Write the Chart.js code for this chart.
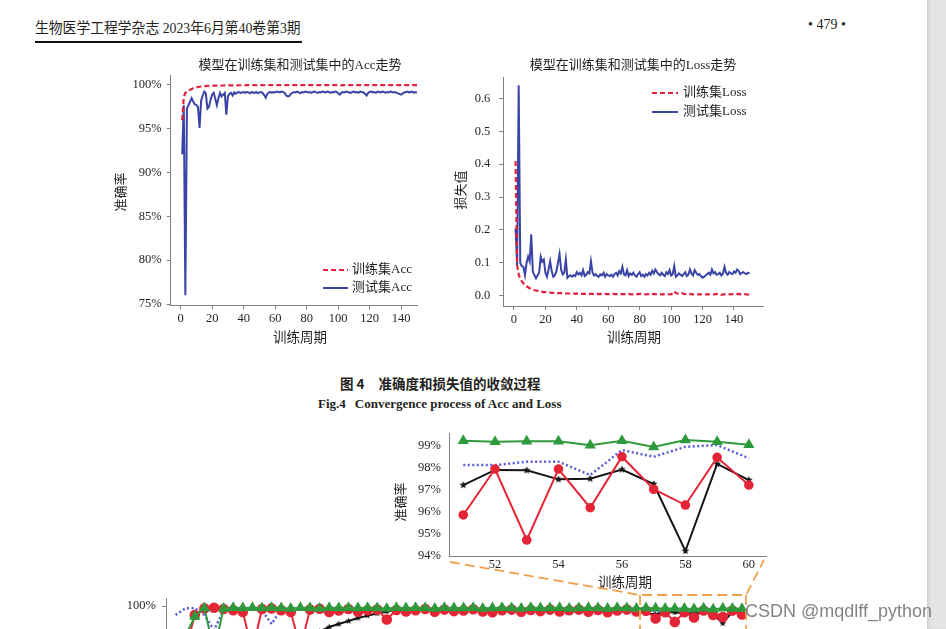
<!DOCTYPE html>
<html>
<head>
<meta charset="utf-8">
<script src="https://cdn.jsdelivr.net/npm/chart.js@4.4.1/dist/chart.umd.min.js"></script>
<style>
  html, body { margin: 0; padding: 0; width: 946px; height: 629px; overflow: hidden; background: #fff; }
  canvas { position: absolute; }
  .txt { position: absolute; color: #231f20; white-space: nowrap; line-height: 1; }
  #hdr { left: 35px; top: 16px; font: 15px "Liberation Serif", "Noto Sans CJK SC", serif; transform: scaleX(0.92); transform-origin: left center; }
  #rule { position: absolute; left: 35px; top: 41px; width: 267px; height: 1.5px; background: #111; }
  #pno { left: 808px; top: 17px; font: 14px "Liberation Serif", serif; }
  #cap1 { left: 340px; top: 373px; font: bold 13.5px "Noto Sans CJK SC", sans-serif; }
  #cap2 { left: 318px; top: 396px; font: bold 13px "Liberation Serif", serif; }
  #strip { position: absolute; left: 927px; top: 0; width: 19px; height: 629px; background: #e4e4e4; box-shadow: inset 3px 0 3px -1px #cfcfcf; }
  #wm { left: 745px; top: 601px; font: 18px "Liberation Sans", sans-serif; color: rgba(118,118,118,0.9); z-index: 5; }
  svg { position: absolute; left: 0; top: 0; z-index: 4; }
</style>
</head>
<body>
<div id="hdr" class="txt">生物医学工程学杂志 2023年6月第40卷第3期</div>
<div id="rule"></div>
<div id="pno" class="txt">• 479 •</div>

<canvas id="acc" width="330" height="300" style="left:100px;top:50px"></canvas>
<canvas id="loss" width="330" height="300" style="left:440px;top:50px"></canvas>

<div id="cap1" class="txt">图 4<span style="display:inline-block;width:14px"></span>准确度和损失值的收敛过程</div>
<div id="cap2" class="txt">Fig.4<span style="display:inline-block;width:9px"></span>Convergence process of Acc and Loss</div>

<canvas id="zoomIn" width="400" height="170" style="left:380px;top:425px"></canvas>
<canvas id="full" width="680" height="360" style="left:100px;top:590px"></canvas>

<svg width="946" height="629">
  <g fill="none" stroke="#f0a04b" stroke-width="1.8" stroke-dasharray="10 5">
    <polyline points="450,562 640,595 746,595 764,560"/>
    <line x1="640" y1="595" x2="640" y2="640"/>
    <line x1="746" y1="595" x2="746" y2="640"/>
  </g>
</svg>
<div id="strip"></div>
<div id="wm" class="txt">CSDN @mqdlff_python</div>

<script>
// ---- data: figure 4, 150 training epochs ----
const epochs = Array.from({length: 150}, (_, i) => i + 1);

const accTrain = [
  96.0, 98.6, 99.1, 99.2, 99.35, 99.45, 99.55, 99.62, 99.68, 99.73,
  99.77, 99.8, 99.83, 99.85, 99.87, 99.88, 99.89, 99.9, 99.91, 99.91,
  99.92, 99.92, 99.93, 99.93, 99.94, 99.94, 99.94, 99.95, 99.95, 99.95,
  99.96, 99.96, 99.96, 99.96, 99.97, 99.96, 99.97, 99.97, 99.97, 99.97,
  99.97, 99.98, 99.98, 99.97, 99.98, 99.98, 99.98, 99.97, 99.98, 99.98,
  99.98, 99.98, 99.97, 99.98, 99.98, 99.99, 99.98, 99.98, 99.97, 99.98,
  99.98, 99.99, 99.98, 99.98, 99.98, 99.97, 99.98, 99.99, 99.98, 99.98,
  99.98, 99.98, 99.99, 99.98, 99.98, 99.97, 99.98, 99.99, 99.98, 99.98,
  99.99, 99.98, 99.98, 99.99, 99.98, 99.98, 99.97, 99.98, 99.99, 99.98,
  99.98, 99.99, 99.98, 99.98, 99.99, 99.98, 99.98, 99.99, 99.98, 99.98,
  99.97, 99.96, 99.98, 99.98, 99.99, 99.98, 99.98, 99.99, 99.98, 99.98,
  99.99, 99.98, 99.98, 99.99, 99.98, 99.98, 99.99, 99.98, 99.99, 99.98,
  99.98, 99.99, 99.98, 99.99, 99.98, 99.98, 99.99, 99.98, 99.98, 99.99,
  99.98, 99.99, 99.98, 99.98, 99.99, 99.98, 99.99, 99.98, 99.98, 99.99,
  99.98, 99.99, 99.98, 99.99, 99.98, 99.98, 99.99, 99.98, 99.99, 99.99
];

const accTest = [
  92.1, 97.7, 76.0, 97.3, 97.7, 98.1, 98.5, 98.1, 97.8, 97.7,
  97.5, 95.1, 98.2, 98.8, 99.25, 99.05, 97.3, 97.5, 98.3, 98.9,
  99.1, 98.4, 97.7, 98.5, 99.1, 98.7, 98.9, 99.1, 96.6, 98.7,
  99.0, 99.1, 98.8, 99.15, 99.0, 99.15, 99.2, 99.1, 99.15, 99.2,
  99.1, 99.2, 99.15, 99.05, 99.2, 99.15, 99.1, 99.2, 99.05, 99.15,
  99.2, 99.1, 98.85, 98.55, 99.0, 99.15, 99.2, 99.1, 99.2, 99.15,
  99.25, 99.2, 99.15, 99.25, 99.2, 99.1, 98.8, 98.7, 98.75, 99.0,
  99.1, 99.2, 99.15, 99.25, 99.15, 99.05, 99.2, 99.15, 99.25, 99.2,
  99.15, 99.2, 99.1, 99.2, 99.25, 99.15, 99.1, 99.2, 99.15, 99.25,
  99.2, 99.15, 99.25, 99.2, 99.1, 99.2, 99.15, 99.25, 99.2, 99.05,
  98.9, 99.1, 99.2, 99.15, 99.25, 99.2, 99.15, 99.1, 99.2, 99.25,
  99.15, 99.2, 99.1, 99.25, 99.2, 99.15, 99.0, 98.8, 99.1, 99.2,
  99.25, 99.15, 99.2, 99.1, 99.25, 99.2, 99.15, 99.25, 99.2, 99.1,
  99.2, 99.15, 99.25, 99.2, 99.15, 99.2, 99.1, 99.05, 98.95, 98.9,
  99.05, 99.15, 99.2, 99.25, 99.15, 99.2, 99.25, 99.1, 99.2, 99.15
];

const lossTrain = [
  0.41, 0.092, 0.065, 0.052, 0.044, 0.038, 0.033, 0.029, 0.026, 0.023,
  0.021, 0.019, 0.017, 0.016, 0.015, 0.014, 0.013, 0.012, 0.011, 0.011,
  0.010, 0.010, 0.010, 0.009, 0.009, 0.009, 0.009, 0.008, 0.008, 0.008,
  0.008, 0.008, 0.007, 0.007, 0.007, 0.007, 0.007, 0.007, 0.006, 0.007,
  0.006, 0.007, 0.006, 0.006, 0.006, 0.007, 0.006, 0.006, 0.006, 0.006,
  0.006, 0.005, 0.006, 0.005, 0.006, 0.005, 0.005, 0.006, 0.005, 0.005,
  0.005, 0.005, 0.006, 0.005, 0.005, 0.005, 0.004, 0.005, 0.005, 0.005,
  0.005, 0.004, 0.005, 0.005, 0.004, 0.005, 0.004, 0.005, 0.005, 0.006,
  0.006, 0.005, 0.005, 0.004, 0.005, 0.005, 0.007, 0.006, 0.005, 0.005,
  0.004, 0.005, 0.005, 0.004, 0.005, 0.004, 0.005, 0.005, 0.004, 0.005,
  0.006, 0.013, 0.009, 0.007, 0.006, 0.005, 0.008, 0.006, 0.005, 0.005,
  0.004, 0.005, 0.005, 0.004, 0.005, 0.005, 0.004, 0.005, 0.004, 0.005,
  0.005, 0.004, 0.005, 0.004, 0.005, 0.005, 0.004, 0.005, 0.006, 0.004,
  0.004, 0.003, 0.004, 0.005, 0.004, 0.005, 0.005, 0.004, 0.005, 0.006,
  0.005, 0.005, 0.006, 0.005, 0.004, 0.005, 0.005, 0.004, 0.004, 0.003
];

const lossTest = [
  0.205, 0.093, 0.64, 0.10, 0.09, 0.088, 0.063, 0.10, 0.119, 0.105,
  0.187, 0.073, 0.063, 0.053, 0.062, 0.07, 0.119, 0.104, 0.11, 0.07,
  0.058, 0.08, 0.105, 0.075, 0.058, 0.062, 0.075, 0.1, 0.127, 0.08,
  0.065, 0.07, 0.11, 0.055, 0.06, 0.062, 0.058, 0.063, 0.06, 0.072,
  0.065, 0.07, 0.062, 0.078, 0.06, 0.064, 0.072, 0.068, 0.105, 0.07,
  0.062, 0.066, 0.06, 0.058, 0.065, 0.062, 0.07, 0.058, 0.066, 0.062,
  0.06, 0.064, 0.058, 0.066, 0.07, 0.062, 0.075, 0.068, 0.088, 0.065,
  0.062, 0.078, 0.06, 0.068, 0.064, 0.07, 0.062, 0.058, 0.066, 0.072,
  0.06, 0.064, 0.058, 0.066, 0.062, 0.07, 0.064, 0.076, 0.068, 0.08,
  0.072, 0.066, 0.062, 0.07, 0.064, 0.06, 0.072, 0.066, 0.078, 0.062,
  0.066, 0.09, 0.058, 0.062, 0.068, 0.064, 0.06, 0.066, 0.072, 0.06,
  0.064, 0.08, 0.068, 0.062, 0.078, 0.07, 0.064, 0.066, 0.06, 0.055,
  0.058, 0.062, 0.066, 0.07, 0.064, 0.08, 0.068, 0.072, 0.064, 0.066,
  0.07, 0.062, 0.068, 0.088, 0.07, 0.064, 0.072, 0.068, 0.066, 0.074,
  0.07, 0.08, 0.076, 0.066, 0.07, 0.072, 0.068, 0.066, 0.07, 0.068
];

// ---- data: accuracy of four models over 60 epochs (zoomed 51-60) ----
const epochs60 = Array.from({length: 60}, (_, i) => i + 1);

const accGreen = [
  75.0, 90.0, 96.5, 99.3, 85.0, 99.2, 99.4, 99.3, 99.4, 99.3,
  99.4, 99.3, 99.2, 99.4, 99.3, 99.2, 99.4, 99.3, 99.4, 99.3,
  99.4, 99.3, 99.2, 99.4, 99.3, 99.4, 99.3, 99.2, 99.4, 99.3,
  99.3, 99.4, 99.2, 99.3, 99.4, 99.3, 99.2, 99.4, 99.3, 99.3,
  99.4, 99.2, 99.3, 99.4, 99.3, 99.2, 99.4, 99.3, 99.2, 99.3,
  99.23, 99.18, 99.2, 99.2, 99.02, 99.23, 98.94, 99.26, 99.18, 99.05
];
const accRed = [
  70.0, 85.0, 97.0, 99.2, 99.4, 99.0, 98.6, 98.0, 85.0, 99.0,
  99.2, 98.6, 98.0, 86.0, 98.8, 99.1, 98.0, 98.5, 99.0, 98.1,
  98.6, 98.8, 95.5, 98.7, 98.2, 98.6, 99.0, 98.1, 98.8, 98.3,
  98.5, 98.9, 98.2, 97.9, 98.6, 98.8, 98.1, 98.7, 98.3, 98.8,
  98.2, 98.6, 98.8, 98.1, 98.7, 97.9, 98.5, 98.8, 98.2, 98.4,
  95.85, 97.94, 94.71, 97.94, 96.18, 98.5, 97.02, 96.3, 98.47, 97.21
];
const accBlack = [
  60.0, 64.0, 68.0, 71.0, 74.0, 76.0, 78.0, 80.0, 82.0, 83.5,
  85.0, 86.0, 87.0, 88.0, 90.0, 91.5, 93.0, 94.0, 95.0, 96.0,
  96.8, 97.5, 98.2, 98.5, 98.8, 98.7, 99.0, 98.9, 99.1, 99.0,
  98.9, 99.1, 99.0, 99.2, 99.0, 98.9, 99.1, 99.0, 99.2, 99.0,
  98.9, 99.1, 99.0, 99.2, 99.0, 99.1, 98.9, 99.1, 98.6, 97.6,
  97.21, 97.9, 97.88, 97.47, 97.5, 97.92, 97.26, 94.21, 98.17, 97.44
];
const accBlue = [
  97.0, 99.2, 99.3, 97.0, 92.0, 98.5, 99.3, 99.2, 99.1, 98.5,
  94.0, 99.0, 99.2, 99.1, 98.8, 99.0, 97.0, 98.9, 99.2, 98.8,
  98.6, 98.9, 99.0, 98.7, 98.8, 99.0, 98.8, 98.6, 98.9, 98.7,
  98.8, 98.6, 98.9, 98.7, 98.5, 98.8, 98.6, 98.9, 98.5, 98.7,
  98.6, 98.4, 98.8, 98.5, 98.7, 98.4, 98.6, 98.8, 98.3, 98.5,
  98.12, 98.12, 98.27, 98.27, 97.67, 98.8, 98.5, 98.95, 99.03, 98.43
];

const accYTicks = [75, 80, 85, 90, 95, 100];
const lossYTicks = [0, 0.1, 0.2, 0.3, 0.4, 0.5, 0.6];
const epochTicks = [0, 20, 40, 60, 80, 100, 120, 140];
const zoomXTicks = [52, 54, 56, 58, 60];
const zoomYTicks = [94, 95, 96, 97, 98, 99];
const fullXTicks = [10, 20, 30, 40, 50, 60];
const fullYTicks = [40, 60, 80, 100];
const zoomFrom = 50; // index of epoch 51

// ---- helpers ----
const INK = '#231f20';
const AXIS = '#808080';
const SERIF = '"Liberation Serif", "Noto Sans CJK SC", serif';
const RED = '#e3203a';
const NAVY = '#3a44a6';

const pts = (xs, ys, from = 0) => ys.slice(from).map((y, i) => ({x: xs[i + from], y}));

function starImage(r, color) {
  const c = document.createElement('canvas');
  c.width = c.height = Math.ceil(r * 2 + 2);
  const g = c.getContext('2d');
  g.translate(c.width / 2, c.height / 2);
  g.beginPath();
  for (let i = 0; i < 10; i++) {
    const a = -Math.PI / 2 + i * Math.PI / 5;
    const rr = i % 2 ? r * 0.45 : r;
    g.lineTo(Math.cos(a) * rr, Math.sin(a) * rr);
  }
  g.closePath();
  g.fillStyle = color;
  g.fill();
  return c;
}

// free text (titles, axis names) at canvas coordinates
const textPlugin = {
  id: 'pageText',
  afterDraw(chart, args, opts) {
    const ctx = chart.ctx;
    (opts.items || []).forEach(it => {
      ctx.save();
      ctx.font = it.font;
      ctx.fillStyle = INK;
      ctx.textAlign = 'center';
      ctx.textBaseline = 'middle';
      ctx.translate(it.x, it.y);
      if (it.rot) ctx.rotate(it.rot);
      ctx.fillText(it.text, 0, 0);
      ctx.restore();
    });
  }
};

// legend drawn inside the plot, using each dataset's own line style
const boxLegend = {
  id: 'boxLegend',
  afterDraw(chart, args, o) {
    if (!o || o.x === undefined) return;
    const ctx = chart.ctx;
    chart.data.datasets.forEach((ds, i) => {
      const y = o.y + i * o.rowH;
      ctx.save();
      ctx.strokeStyle = ds.borderColor;
      ctx.lineWidth = ds.borderWidth;
      ctx.setLineDash(ds.borderDash || []);
      ctx.beginPath();
      ctx.moveTo(o.x, y);
      ctx.lineTo(o.x + o.lineW, y);
      ctx.stroke();
      ctx.setLineDash([]);
      ctx.font = o.font;
      ctx.fillStyle = INK;
      ctx.textAlign = 'left';
      ctx.textBaseline = 'middle';
      ctx.fillText(ds.label, o.x + o.lineW + o.gap, y);
      ctx.restore();
    });
  }
};

function axis(min, max, ticks, fmt, opt) {
  return {
    type: 'linear', min, max,
    afterBuildTicks: s => { s.ticks = ticks.map(v => ({value: v})); },
    afterFit: s => {
      if (opt.w !== undefined) s.width = opt.w;
      if (opt.h !== undefined) s.height = opt.h;
      // keep the plot box exactly where layout.padding puts it
      s.paddingTop = s.paddingBottom = s.paddingLeft = s.paddingRight = 0;
    },
    grid: {drawOnChartArea: false, drawTicks: opt.tick > 0, tickLength: opt.tick || 0, color: AXIS},
    border: {display: true, color: AXIS, width: 1},
    ticks: {
      padding: opt.pad, color: INK, autoSkip: false, maxRotation: 0,
      font: {family: SERIF, size: 12.5},
      callback: fmt
    }
  };
}

function baseOptions(pad, scales, plugins) {
  return {
    responsive: false, animation: false, events: [],
    layout: {padding: pad},
    elements: {line: {tension: 0}, point: {radius: 0}},
    scales,
    plugins: Object.assign({legend: {display: false}, tooltip: {enabled: false}}, plugins)
  };
}

const pct = v => v + '%';

// ---- Acc chart ----
new Chart(document.getElementById('acc'), {
  type: 'line',
  data: {
    datasets: [
      {label: '训练集Acc', data: pts(epochs, accTrain), borderColor: RED, borderWidth: 2.2, borderDash: [5, 3]},
      {label: '测试集Acc', data: pts(epochs, accTest), borderColor: NAVY, borderWidth: 2}
    ]
  },
  options: baseOptions({left: 10, top: 25, right: 13, bottom: 0}, {
    x: axis(-6.3, 150, epochTicks, v => v, {h: 44.5, tick: 4, pad: 2}),
    y: axis(74.83, 101.14, accYTicks, pct, {w: 60.7, tick: 4, pad: 5})
  }, {
    pageText: {items: [
      {text: '模型在训练集和测试集中的Acc走势', x: 200, y: 16, font: '13px ' + SERIF},
      {text: '训练周期', x: 200, y: 288, font: '13.5px ' + SERIF},
      {text: '准确率', x: 22, y: 142, rot: -Math.PI / 2, font: '13px ' + SERIF}
    ]},
    boxLegend: {x: 223, y: 220, rowH: 18, lineW: 25, gap: 4, font: '13px ' + SERIF}
  }),
  plugins: [textPlugin, boxLegend]
});

// ---- Loss chart ----
new Chart(document.getElementById('loss'), {
  type: 'line',
  data: {
    datasets: [
      {label: '训练集Loss', data: pts(epochs, lossTrain), borderColor: RED, borderWidth: 2.2, borderDash: [5, 3]},
      {label: '测试集Loss', data: pts(epochs, lossTest), borderColor: NAVY, borderWidth: 2}
    ]
  },
  options: baseOptions({left: 10, top: 27, right: 7, bottom: 0}, {
    x: axis(-6.8, 158.5, epochTicks, v => v, {h: 44, tick: 4, pad: 2.5}),
    y: axis(-0.031, 0.665, lossYTicks, v => v.toFixed(1), {w: 53.3, tick: 4, pad: 9})
  }, {
    pageText: {items: [
      {text: '模型在训练集和测试集中的Loss走势', x: 193, y: 16, font: '13px ' + SERIF},
      {text: '训练周期', x: 194, y: 288, font: '13.5px ' + SERIF},
      {text: '损失值', x: 22, y: 140, rot: -Math.PI / 2, font: '13px ' + SERIF}
    ]},
    boxLegend: {x: 212, y: 43, rowH: 19, lineW: 26, gap: 5, font: '13px ' + SERIF}
  }),
  plugins: [textPlugin, boxLegend]
});

// ---- four-model accuracy, two views ----
const GREEN = '#2f9a3c';
const CRIMSON = '#e42535';
const DOTBLUE = '#5b5bd6';
const BLACK = '#141414';

// first dataset is drawn on top: green, then red, black, blue dots
function modelSets(from, big) {
  return [
    {data: pts(epochs60, accGreen, from), borderColor: GREEN, borderWidth: 2, pointStyle: 'triangle',
     pointRadius: 4.5, pointBackgroundColor: GREEN, pointBorderColor: GREEN},
    {data: pts(epochs60, accRed, from), borderColor: CRIMSON, borderWidth: 2, pointStyle: 'circle',
     pointRadius: big ? 3.8 : 4.3, pointBackgroundColor: CRIMSON, pointBorderColor: CRIMSON},
    {data: pts(epochs60, accBlack, from), borderColor: BLACK, borderWidth: 2,
     pointStyle: starImage(big ? 4 : 3.5, BLACK), pointRadius: 4},
    {data: pts(epochs60, accBlue, from), borderColor: DOTBLUE, borderWidth: 2.5, borderDash: [2, 2.5], pointRadius: 0}
  ];
}

new Chart(document.getElementById('zoomIn'), {
  type: 'line',
  data: {datasets: modelSets(zoomFrom, true)},
  options: baseOptions({left: 10, top: 8, right: 14, bottom: 0}, {
    x: axis(50.55, 60.54, zoomXTicks, v => v, {h: 38.3, tick: 0, pad: 1}),
    y: axis(93.95, 99.58, zoomYTicks, pct, {w: 59, tick: 0, pad: 8})
  }, {
    pageText: {items: [
      {text: '训练周期', x: 245, y: 158, font: '13.5px ' + SERIF},
      {text: '准确率', x: 22, y: 77, rot: -Math.PI / 2, font: '13px ' + SERIF}
    ]}
  }),
  plugins: [textPlugin]
});

new Chart(document.getElementById('full'), {
  type: 'line',
  data: {datasets: modelSets(0, false)},
  options: baseOptions({left: 10, top: 8, right: 33.2, bottom: 0}, {
    x: axis(0, 60.5, fullXTicks, v => v, {h: 44, tick: 4, pad: 2}),
    y: axis(0, 102.67, fullYTicks, pct, {w: 56, tick: 4, pad: 6})
  }, {}),
  plugins: []
});
</script>
</body>
</html>
